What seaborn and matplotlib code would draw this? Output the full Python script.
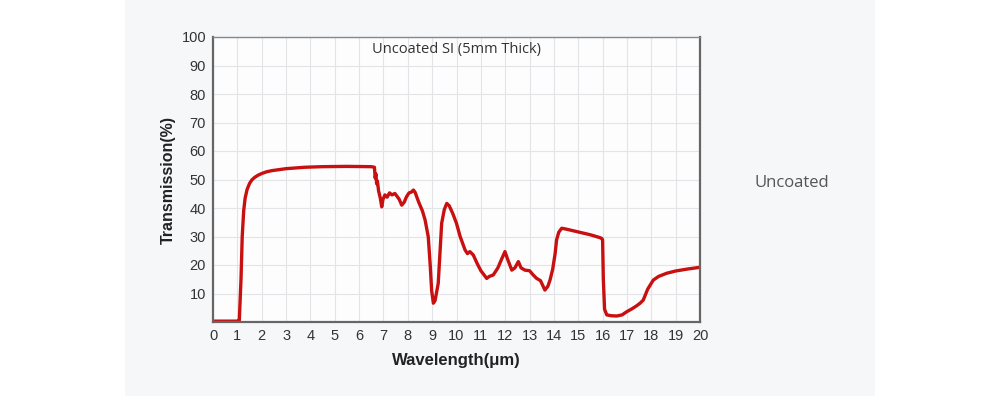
import numpy as np
import pandas as pd
import matplotlib
matplotlib.use("Agg")
import matplotlib.pyplot as plt
import seaborn as sns

# Transmission curve of uncoated Si (5mm)
wavelength = [0.0, 0.5, 1.0, 1.08, 1.15, 1.2, 1.26, 1.32, 1.4, 1.5, 1.6, 1.72, 1.85, 2.0, 2.2, 2.41, 3.0, 3.78, 4.5,
              5.5, 6.5, 6.63, 6.66, 6.69, 6.72, 6.75, 6.8, 6.87, 6.93, 6.98, 7.06, 7.15, 7.25, 7.35, 7.47, 7.55,
              7.65, 7.75, 7.85, 7.95, 8.05, 8.15, 8.23, 8.3, 8.45, 8.6, 8.71, 8.84, 8.92, 8.98, 9.05, 9.12,
              9.25, 9.39, 9.5, 9.6, 9.7, 9.85, 10.0, 10.15, 10.35, 10.45, 10.55, 10.69, 10.85, 11.0, 11.24,
              11.35, 11.51, 11.7, 11.85, 11.99, 12.1, 12.27, 12.4, 12.54, 12.65, 12.81, 13.0, 13.15, 13.29,
              13.45, 13.63, 13.75, 13.84, 13.95, 14.05, 14.11, 14.2, 14.32, 14.5, 15.0, 15.5, 15.89, 15.97,
              16.0, 16.03, 16.08, 16.17, 16.35, 16.58, 16.8, 16.99, 17.2, 17.4, 17.54, 17.67, 17.85, 18.08,
              18.3, 18.63, 19.0, 19.5, 20.0]
transmission = [0.3, 0.3, 0.3, 0.5, 15.0, 30.0, 39.0, 43.5, 46.5, 48.6, 49.9, 50.8, 51.5, 52.1, 52.7, 53.1, 53.8,
                54.3, 54.5, 54.6, 54.5, 54.3, 50.5, 52.0, 48.5, 49.5, 46.0, 43.5, 40.4, 43.0, 44.6, 43.8, 45.3,
                44.6, 45.1, 44.2, 43.0, 41.0, 42.0, 44.0, 45.3, 45.6, 46.3, 45.5, 42.0, 39.0, 35.8, 29.9, 20.0,
                11.0, 6.6, 7.5, 13.6, 34.6, 39.5, 41.6, 40.8, 38.0, 34.6, 30.0, 25.3, 24.0, 24.7, 23.5, 20.5,
                18.0, 15.3, 16.0, 16.5, 19.0, 22.0, 24.7, 22.0, 18.2, 19.0, 21.2, 19.0, 18.2, 18.0, 16.5, 15.3,
                14.5, 11.2, 12.5, 14.7, 18.5, 24.0, 28.8, 31.5, 32.9, 32.6, 31.6, 30.6, 29.6, 29.3, 28.8, 15.0,
                4.5, 2.5, 2.2, 2.1, 2.5, 3.6, 4.6, 5.7, 6.6, 7.7, 11.5, 14.7, 16.0, 17.1, 17.9, 18.6, 19.2]

df = pd.DataFrame({"Wavelength": wavelength, "Transmission": transmission})

sns.set_theme(style="white")
plt.rcParams["font.family"] = ["Liberation Sans", "DejaVu Sans"]

fig = plt.figure(figsize=(10, 3.96), dpi=100)
fig.patch.set_facecolor("white")
# light grey panel behind the chart
fig.patches.append(plt.Rectangle((0.125, 0), 0.75, 1, transform=fig.transFigure,
                                 facecolor="#f6f7f9", edgecolor="none", zorder=-10))

ax = fig.add_axes([0.213, 1 - 322 / 396, 0.487, (322 - 37) / 396])
ax.set_facecolor("#fdfdfe")

sns.lineplot(data=df, x="Wavelength", y="Transmission", ax=ax, color="#c81010", linewidth=2.4)

ax.set_xlim(0, 20)
ax.set_ylim(0, 100)
ax.set_xticks(range(0, 21))
ax.set_yticks(range(10, 101, 10))
ax.grid(True, color="#e3e4e8", linewidth=0.8)
ax.set_axisbelow(True)
ax.tick_params(axis="both", length=0, labelsize=10.5, colors="#333333", pad=5)

for side in ["left", "bottom", "right"]:
    ax.spines[side].set_color("#666666")
    ax.spines[side].set_linewidth(1.6)
ax.spines["top"].set_color("#888888")
ax.spines["top"].set_linewidth(1.0)

ax.set_xlabel("Wavelength(μm)", fontsize=12, fontweight="bold", color="#222222", labelpad=7)
ax.set_ylabel("Transmission(%)", fontsize=11.5, fontweight="bold", color="#222222", labelpad=4)

ax.text(0.5, 0.955, "Uncoated SI (5mm Thick)", transform=ax.transAxes, ha="center", va="center",
        fontsize=10.5, color="#333333", family=["Open Sans", "DejaVu Sans"])

fig.text(0.792, 1 - 183 / 396, "Uncoated", ha="center", va="center", fontsize=12,
         color="#555555", family=["Open Sans", "DejaVu Sans"])

fig.savefig("out.png", dpi=100)
